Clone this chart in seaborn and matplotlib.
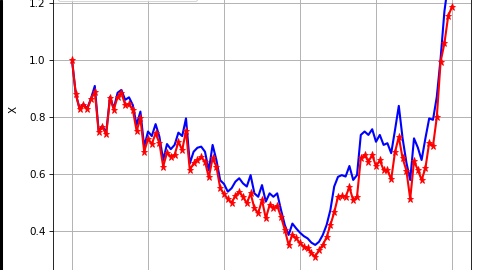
import numpy as np
import pandas as pd
import matplotlib
matplotlib.use("Agg")
import matplotlib.pyplot as plt
from matplotlib.patches import Rectangle
import seaborn as sns

steps = list(range(101))

true_x = [1.0, 0.88, 0.83, 0.845, 0.83, 0.865, 0.909, 0.752, 0.768, 0.745,
          0.87, 0.83, 0.885, 0.895, 0.86, 0.869, 0.842, 0.772, 0.819, 0.696,
          0.749, 0.733, 0.775, 0.731, 0.649, 0.705, 0.687, 0.702, 0.745, 0.733,
          0.795, 0.637, 0.678, 0.692, 0.696, 0.678, 0.612, 0.702, 0.649, 0.578,
          0.565, 0.538, 0.55, 0.573, 0.585, 0.567, 0.556, 0.596, 0.532, 0.52,
          0.561, 0.503, 0.532, 0.52, 0.532, 0.474, 0.421, 0.386, 0.426, 0.409,
          0.394, 0.382, 0.374, 0.359, 0.351, 0.362, 0.386, 0.421, 0.474, 0.556,
          0.59, 0.596, 0.591, 0.628, 0.579, 0.596, 0.737, 0.749, 0.737, 0.757,
          0.713, 0.737, 0.702, 0.708, 0.673, 0.754, 0.839, 0.725, 0.64, 0.579,
          0.725, 0.693, 0.649, 0.725, 0.795, 0.79, 0.871, 1.005, 1.17, 1.27,
          1.34]

est_x = [1.0, 0.88, 0.827, 0.842, 0.827, 0.862, 0.889, 0.749, 0.764, 0.739,
         0.866, 0.826, 0.871, 0.885, 0.842, 0.844, 0.825, 0.751, 0.795, 0.678,
         0.723, 0.705, 0.743, 0.708, 0.626, 0.675, 0.661, 0.667, 0.713, 0.684,
         0.752, 0.614, 0.637, 0.649, 0.659, 0.643, 0.588, 0.655, 0.626, 0.55,
         0.530, 0.512, 0.499, 0.524, 0.538, 0.520, 0.497, 0.532, 0.480, 0.462,
         0.509, 0.444, 0.491, 0.480, 0.488, 0.450, 0.404, 0.351, 0.386, 0.374,
         0.357, 0.345, 0.339, 0.322, 0.310, 0.333, 0.351, 0.378, 0.421, 0.465,
         0.520, 0.523, 0.520, 0.554, 0.507, 0.520, 0.655, 0.667, 0.643, 0.667,
         0.627, 0.648, 0.614, 0.613, 0.581, 0.677, 0.730, 0.655, 0.612, 0.512,
         0.645, 0.615, 0.579, 0.620, 0.710, 0.698, 0.799, 0.994, 1.058, 1.154,
         1.187]

df = pd.DataFrame({"step": steps, "true": true_x, "est": est_x})

fig = plt.figure(figsize=(6.4, 3.6), dpi=75)
# axes extends beyond the visible (cropped) frame, as in the reference
ax = fig.add_axes([53 / 480, -1.3 / 270, 418 / 480, 322.9 / 270])

sns.lineplot(data=df, x="step", y="true", color="b", lw=2, ax=ax,
             legend=False)
sns.lineplot(data=df, x="step", y="est", color="r", lw=2, marker="*",
             markersize=7, markeredgecolor="r", markeredgewidth=0.8, ax=ax,
             legend=False)

ax.set_xlim(-5, 105)
ax.set_ylim(0.2585, 1.3915)
ax.set_xticks([0, 20, 40, 60, 80, 100])
ax.set_yticks([0.4, 0.6, 0.8, 1.0, 1.2])
ax.tick_params(axis="x", labelbottom=False)
ax.grid(True, color="#b0b0b0", lw=0.9)
ax.set_xlabel("")
ax.set_ylabel("X", labelpad=10)

# legend box: only its lower edge is visible in the cropped reference
handles = ax.get_lines()[:2]
ax.legend(handles, ["", ""], loc="lower left",
          bbox_to_anchor=(5.2 / 418, 0.837, 139 / 418, 0.2),
          mode="expand", borderaxespad=0)

fig.patches.append(Rectangle((0, 0), 2 / 480, 1, transform=fig.transFigure,
                             color="black", zorder=10))

fig.savefig("out.png", dpi=75)
